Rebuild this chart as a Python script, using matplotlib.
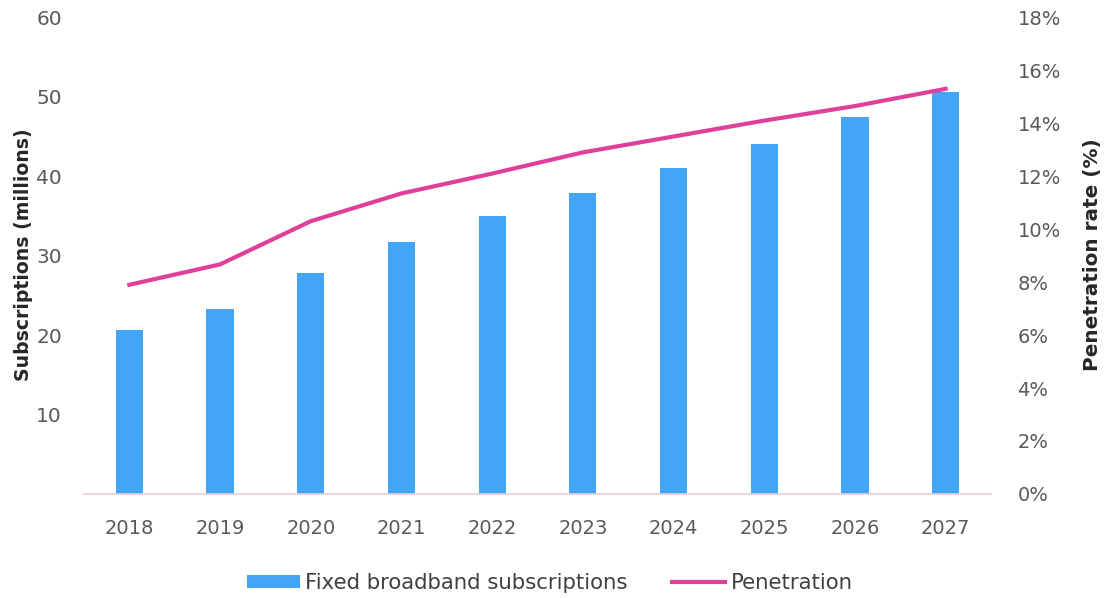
import matplotlib
matplotlib.use("Agg")
import matplotlib.pyplot as plt
from matplotlib.ticker import FuncFormatter

years = ["2018", "2019", "2020", "2021", "2022", "2023", "2024", "2025", "2026", "2027"]
subscriptions = [20.6, 23.3, 27.8, 31.7, 35.0, 37.9, 41.0, 44.0, 47.4, 50.6]
penetration = [7.9, 8.67, 10.3, 11.35, 12.1, 12.9, 13.5, 14.1, 14.65, 15.3]

plt.rcParams['font.family'] = ['DejaVu Sans']
tick_color = "#595959"
bar_color = "#42A5F5"
line_color = "#E0409A"

fig = plt.figure(figsize=(11.04, 5.98), dpi=100)
ax = fig.add_axes([84 / 1104, 0.174, 907 / 1104, 0.797])
ax2 = ax.twinx()

x = list(range(len(years)))
bars = ax.bar(x, subscriptions, width=0.3, color=bar_color, label="Fixed broadband subscriptions", zorder=2)
line, = ax2.plot(x, penetration, color=line_color, linewidth=3, label="Penetration", zorder=3)

ax.set_xlim(-0.5, len(years) - 0.5)
ax.set_ylim(0, 60)
ax.set_yticks([10, 20, 30, 40, 50, 60])
ax2.set_ylim(0, 18)
ax2.set_yticks(list(range(0, 19, 2)))
ax2.yaxis.set_major_formatter(FuncFormatter(lambda v, p: f"{int(v)}%"))

ax.set_xticks(x)
ax.set_xticklabels(years)

for a in (ax, ax2):
    for s in ("top", "right", "left", "bottom"):
        a.spines[s].set_visible(False)
    a.tick_params(length=0, labelsize=14, colors=tick_color)
ax.spines["bottom"].set_visible(True)
ax.spines["bottom"].set_color("#E6CFCF")
ax.spines["bottom"].set_linewidth(1.2)
ax.tick_params(axis="x", pad=18)
ax.tick_params(axis="y", labelsize=14.5, pad=16)
ax2.tick_params(axis="y", pad=19)

ax.set_ylabel("Subscriptions (millions)", fontsize=13.6, fontweight="bold", color="#262626")
ax.yaxis.set_label_coords(-0.056, 0.502)
ax2.set_ylabel("Penetration rate (%)", fontsize=14.4, fontweight="bold", color="#262626")
ax2.yaxis.set_label_coords(1.101, 0.502)

fig.legend([bars, line], ["Fixed broadband subscriptions", "Penetration"],
           loc="center", bbox_to_anchor=(0.498, 0.025), ncol=2, frameon=False,
           fontsize=15.3, handlelength=2.5, handleheight=0.6, handletextpad=0.24,
           columnspacing=2.1, labelcolor="#404040")

fig.savefig("out.png", dpi=100, facecolor="white")
